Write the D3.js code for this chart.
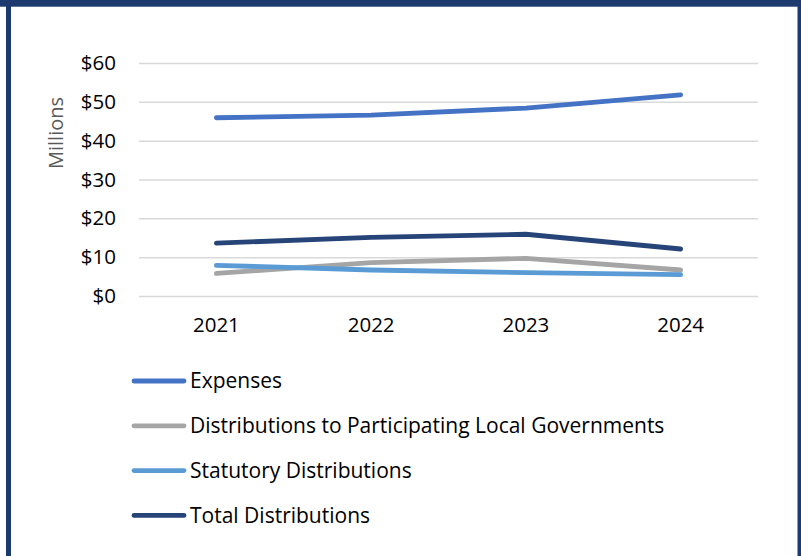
<!DOCTYPE html>
<html>
<head>
<meta charset="utf-8">
<script src="https://cdn.jsdelivr.net/npm/d3@7"></script>
<style>
  body { margin: 0; background: #fff; }
  svg { display: block; font-family: "Open Sans", "Noto Sans", sans-serif; }
</style>
</head>
<body>
<svg id="chart" width="801" height="556"></svg>
<script>
// chart values (millions of dollars)
let years = ['2021', '2022', '2023', '2024'];
let expenses = [45.9, 46.6, 48.4, 51.8];
let localGovDistributions = [5.8, 8.6, 9.7, 6.7];
let statutoryDistributions = [7.9, 6.7, 6.0, 5.5];
let totalDistributions = [13.6, 15.1, 15.9, 12.1];
let yTicks = [0, 10, 20, 30, 40, 50, 60];

let seriesNames = ['Expenses', 'Distributions to Participating Local Governments', 'Statutory Distributions', 'Total Distributions'];
let seriesValues = [expenses, localGovDistributions, statutoryDistributions, totalDistributions];
let colors = ['#4472C4', '#A5A5A5', '#5B9BD5', '#264478'];

let svg = d3.select('#chart');
let margin = {top: 63, left: 139, right: 43, bottom: 260};
let width = 801 - margin.left - margin.right,
  height = 556 - margin.top - margin.bottom;

// frame round the chart (bottom edge is cropped in the original)
svg.append('rect').attr('x', 0).attr('y', 0).attr('width', 801).attr('height', 6.7).attr('fill', '#1C3A6E');
svg.append('rect').attr('x', 6).attr('y', 0).attr('width', 5).attr('height', 556).attr('fill', '#1C3A6E');
svg.append('rect').attr('x', 797.5).attr('y', 0).attr('width', 3.5).attr('height', 556).attr('fill', '#1C3A6E');

let g = svg.append('g')
  .attr('transform', 'translate(' + margin.left + ',' + margin.top + ')');

let x = d3.scaleBand()
  .domain(years)
  .range([0, width]);

let y = d3.scaleLinear()
  .domain([0, 60])
  .range([height, 0]);

// gridlines + y labels
let yAxis = g.append('g')
  .call(d3.axisLeft(y).tickValues(yTicks).tickSize(-width).tickPadding(23).tickFormat((d) => '$' + d));
yAxis.select('.domain').remove();
yAxis.selectAll('line').attr('stroke', '#D9D9D9').attr('stroke-width', 1.5);
yAxis.selectAll('text').attr('font-size', 20.5).attr('fill', '#000').attr('font-family', '"Open Sans", sans-serif');

// x labels
let xAxis = g.append('g')
  .attr('transform', 'translate(0,' + height + ')')
  .call(d3.axisBottom(x).tickSize(0).tickPadding(21));
xAxis.select('.domain').remove();
xAxis.selectAll('text').attr('font-size', 20.5).attr('fill', '#000').attr('font-family', '"Open Sans", sans-serif');

// axis title
svg.append('text')
  .attr('transform', 'translate(63,133) rotate(-90)')
  .attr('text-anchor', 'middle')
  .attr('font-size', 20)
  .attr('fill', '#595959')
  .text('Millions');

let line = d3.line()
  .x((d, i) => x(years[i]) + x.bandwidth() / 2)
  .y((d) => y(d));

// lines: expenses drawn last
let drawOrder = [1, 2, 3, 0];
drawOrder.forEach((k) => {
  g.append('path')
    .datum(seriesValues[k])
    .attr('fill', 'none')
    .attr('stroke', colors[k])
    .attr('stroke-width', 4.8)
    .attr('stroke-linecap', 'round')
    .attr('stroke-linejoin', 'round')
    .attr('d', line);
});

// legend
let legend = svg.append('g')
  .selectAll('.legend')
  .data(seriesNames)
  .enter().append('g')
  .attr('class', 'legend')
  .attr('transform', (d, i) => 'translate(0,' + (381 + i * 44.8) + ')');

legend.append('line')
  .attr('x1', 134)
  .attr('x2', 184)
  .attr('stroke', (d, i) => colors[i])
  .attr('stroke-width', 4.8)
  .attr('stroke-linecap', 'round');

legend.append('text')
  .attr('x', 190)
  .attr('dy', '0.35em')
  .attr('font-size', 21)
  .attr('fill', '#000')
  .text((d) => d);
</script>
</body>
</html>
